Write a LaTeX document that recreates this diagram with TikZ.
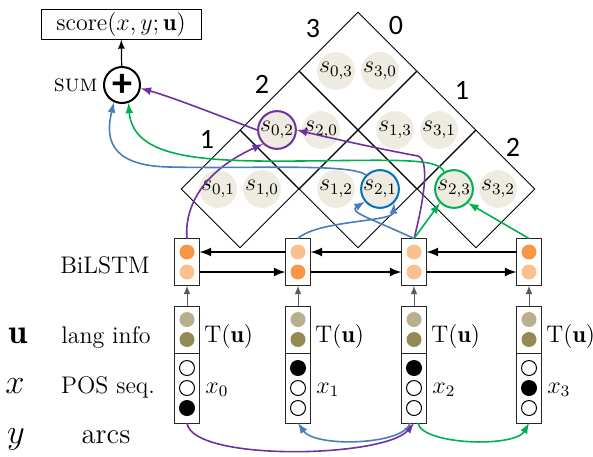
\documentclass[tikz,border=0pt]{standalone}
\usepackage{fontspec}
\newfontfamily\numfont{Carlito}
\usetikzlibrary{positioning,shapes.geometric,calc}

\definecolor{cellgray}{HTML}{EEECE1}
\definecolor{lstmdark}{HTML}{F79646}
\definecolor{lstmlight}{HTML}{FAC090}
\definecolor{langlight}{HTML}{B8B08D}
\definecolor{langdark}{HTML}{948A54}
\definecolor{arcpurple}{HTML}{7030A0}
\definecolor{arcblue}{HTML}{4A7EBB}
\definecolor{cellblue}{HTML}{0070C0}
\definecolor{arcgreen}{HTML}{00B050}

\begin{document}
\begin{tikzpicture}[x=0.5pt, y=-0.5pt, >=latex, font=\fontsize{12}{14}\selectfont]
		% styles
		\tikzset{
			cell/.style={draw, diamond, aspect=1, minimum width=59pt, minimum height=59pt, inner sep=0pt, line width=0.45pt},
			score/.style={circle, fill=cellgray, minimum size=17pt, inner sep=0pt},
			picked/.style={score, draw, line width=1pt},
			tok/.style={draw=black!85, rectangle, minimum width=12.5pt, inner sep=0pt, outer sep=0pt, line width=0.5pt},
			dot/.style={circle, minimum size=7.5pt, inner sep=0pt, line width=0.5pt},
			sum/.style={circle, draw, minimum size=18pt, inner sep=0pt, line width=1pt},
			arcline/.style={->, line width=0.8pt},
			rnn/.style={->, line width=1pt},
			edgenum/.style={font=\numfont\fontsize{14}{16}\selectfont},
			varlabel/.style={anchor=base, font=\fontsize{17.28}{20}\selectfont}
		}
		\useasboundingbox (0,0) rectangle (593,456);

		% score chart
		\foreach \i/\j/\cx/\cy in {0/3/358/71, 0/2/299/130, 1/3/417/130, 0/1/240/189, 1/2/358/189, 2/3/476/189}
			\node[cell] (c\i\j) at (\cx,\cy) {};
		\node[score] (s03) at ([xshift=-11pt]c03.center) {$s_{0,3}$};
		\node[score] (s30) at ([xshift=11pt]c03.center) {$s_{3,0}$};
		\node[picked, draw=arcpurple] (s02) at ([xshift=-11pt]c02.center) {$s_{0,2}$};
		\node[score] (s20) at ([xshift=11pt]c02.center) {$s_{2,0}$};
		\node[score] (s13) at ([xshift=-11pt]c13.center) {$s_{1,3}$};
		\node[score] (s31) at ([xshift=11pt]c13.center) {$s_{3,1}$};
		\node[score] (s01) at ([xshift=-11pt]c01.center) {$s_{0,1}$};
		\node[score] (s10) at ([xshift=11pt]c01.center) {$s_{1,0}$};
		\node[score] (s12) at ([xshift=-11pt]c12.center) {$s_{1,2}$};
		\node[picked, draw=cellblue] (s21) at ([xshift=11pt]c12.center) {$s_{2,1}$};
		\node[picked, draw=arcgreen] (s23) at ([xshift=-11pt]c23.center) {$s_{2,3}$};
		\node[score] (s32) at ([xshift=11pt]c23.center) {$s_{3,2}$};

		% chart indices
		\node[edgenum] (lft3) at (313,29) {3};
		\node[edgenum] (lft2) at (262,84) {2};
		\node[edgenum] (lft1) at (207,139) {1};
		\node[edgenum] (rgt0) at (396,26) {0};
		\node[edgenum] (rgt1) at (462,90) {1};
		\node[edgenum] (rgt2) at (513,147) {2};

		% sum and score
		\node[draw, minimum width=80pt, minimum height=15pt, inner sep=0pt, line width=0.5pt] (total) at (121,24) {score$(x,y;\mathbf{u})$};
		\node[sum] (sum) at (122,85) {\numfont\bfseries\fontsize{20}{20}\selectfont +};
		\node[left=2.5pt of sum, inner sep=0pt] (sumtext) {\textsc{sum}};
		\draw[->, line width=0.6pt] (sum) -- (total);

		% row labels
		\node[anchor=base] (bilstm) at (105,273) {BiLSTM};
		\node[anchor=base] (lang) at (106,343) {lang info};
		\node[anchor=base] (pos) at (108,393) {POS seq.};
		\node[anchor=base, font=\fontsize{14.4}{16}\selectfont] (arcs) at (106,443) {arcs};
		\node[varlabel] (uvar) at (18,343) {$\mathbf{u}$};
		\node[varlabel] (xvar) at (15,393) {$x$};
		\node[varlabel] (yvar) at (16,443) {$y$};

		% token columns
		\foreach \c/\x/\ha/\hb/\xa/\xb/\xc in {0/187/lstmdark/lstmlight/white/white/black, 1/298/lstmlight/lstmdark/black/white/white, 2/414/lstmlight/lstmlight/black/white/white, 3/529/lstmdark/lstmlight/white/black/white}{
			\node[tok, minimum height=23.5pt] (h\c) at (\x,262) {};
			\node[dot, fill=\ha] (hu\c) at ([yshift=5pt]h\c.center) {};
			\node[dot, fill=\hb] (hd\c) at ([yshift=-5pt]h\c.center) {};
			\node[tok, minimum height=23.5pt, below=10.25pt of h\c] (t\c) {};
			\node[dot, fill=langlight] (tu\c) at ([yshift=5pt]t\c.center) {};
			\node[dot, fill=langdark] (td\c) at ([yshift=-5pt]t\c.center) {};
			\node[tok, minimum height=35pt, below=0pt of t\c] (x\c) {};
			\node[dot, draw, fill=\xa] (xa\c) at ([yshift=10pt]x\c.center) {};
			\node[dot, draw, fill=\xb] (xb\c) at (x\c.center) {};
			\node[dot, draw, fill=\xc] (xc\c) at ([yshift=-10pt]x\c.center) {};
			\node[anchor=base west, inner sep=0pt] (tl\c) at (\x+17,342) {T$(\mathbf{u})$};
			\node[anchor=base west, inner sep=0pt] (xl\c) at (\x+18,393) {$x_\c$};
			\draw[->, black!65, line width=0.5pt] (t\c) -- (h\c);
		}

		% connections
		\foreach \c/\n in {0/1, 1/2, 2/3}{
			\draw[rnn] (h\n.west |- hu\n) -- (h\c.east |- hu\c);
			\draw[rnn] (h\c.east |- hd\c) -- (h\n.west |- hd\n);
		}

		% arc 0 -> 2
		\draw[arcline, arcpurple] (s02.west) .. controls (225,118) and (175,98) .. (sum.-10);
		\draw[arcline, arcpurple] (h0.north) .. controls (184,205) and (205,170) .. (s02.south west);
		\draw[arcline, arcpurple] (h2.north) .. controls (424,200) and (430,160) .. (418,156) .. controls (385,150) and (330,138) .. (s02.east);
		\draw[arcline, arcpurple] (x0.south) .. controls (192,462) and (385,458) .. (x2.south);

		% arc 2 -> 1
		\draw[arcline, arcblue] (s21.north west) .. controls (350,163) and (250,169) .. (170,167) .. controls (106,166) and (106,135) .. (sum.245);
		\draw[arcline, arcblue] (h1.north) .. controls (318,220) and (393,222) .. (s21.south east);
		\draw[arcline, arcblue] (h2.north) .. controls (370,218) and (348,212) .. (s21.220);
		\draw[arcline, arcblue] ([xshift=-2pt]x2.south) .. controls (405,445) and (315,448) .. (x1.south);

		% arc 2 -> 3
		\draw[arcline, arcgreen] (s23.120) .. controls (438,158) and (400,160) .. (300,161) .. controls (200,162) and (133,158) .. (sum.290);
		\draw[arcline, arcgreen] (h2.north) -- (s23.south west);
		\draw[arcline, arcgreen] (h3.north) -- (s23.south east);
		\draw[arcline, arcgreen] ([xshift=2pt]x2.south) .. controls (422,445) and (515,448) .. (x3.south);

\end{tikzpicture}
\end{document}
